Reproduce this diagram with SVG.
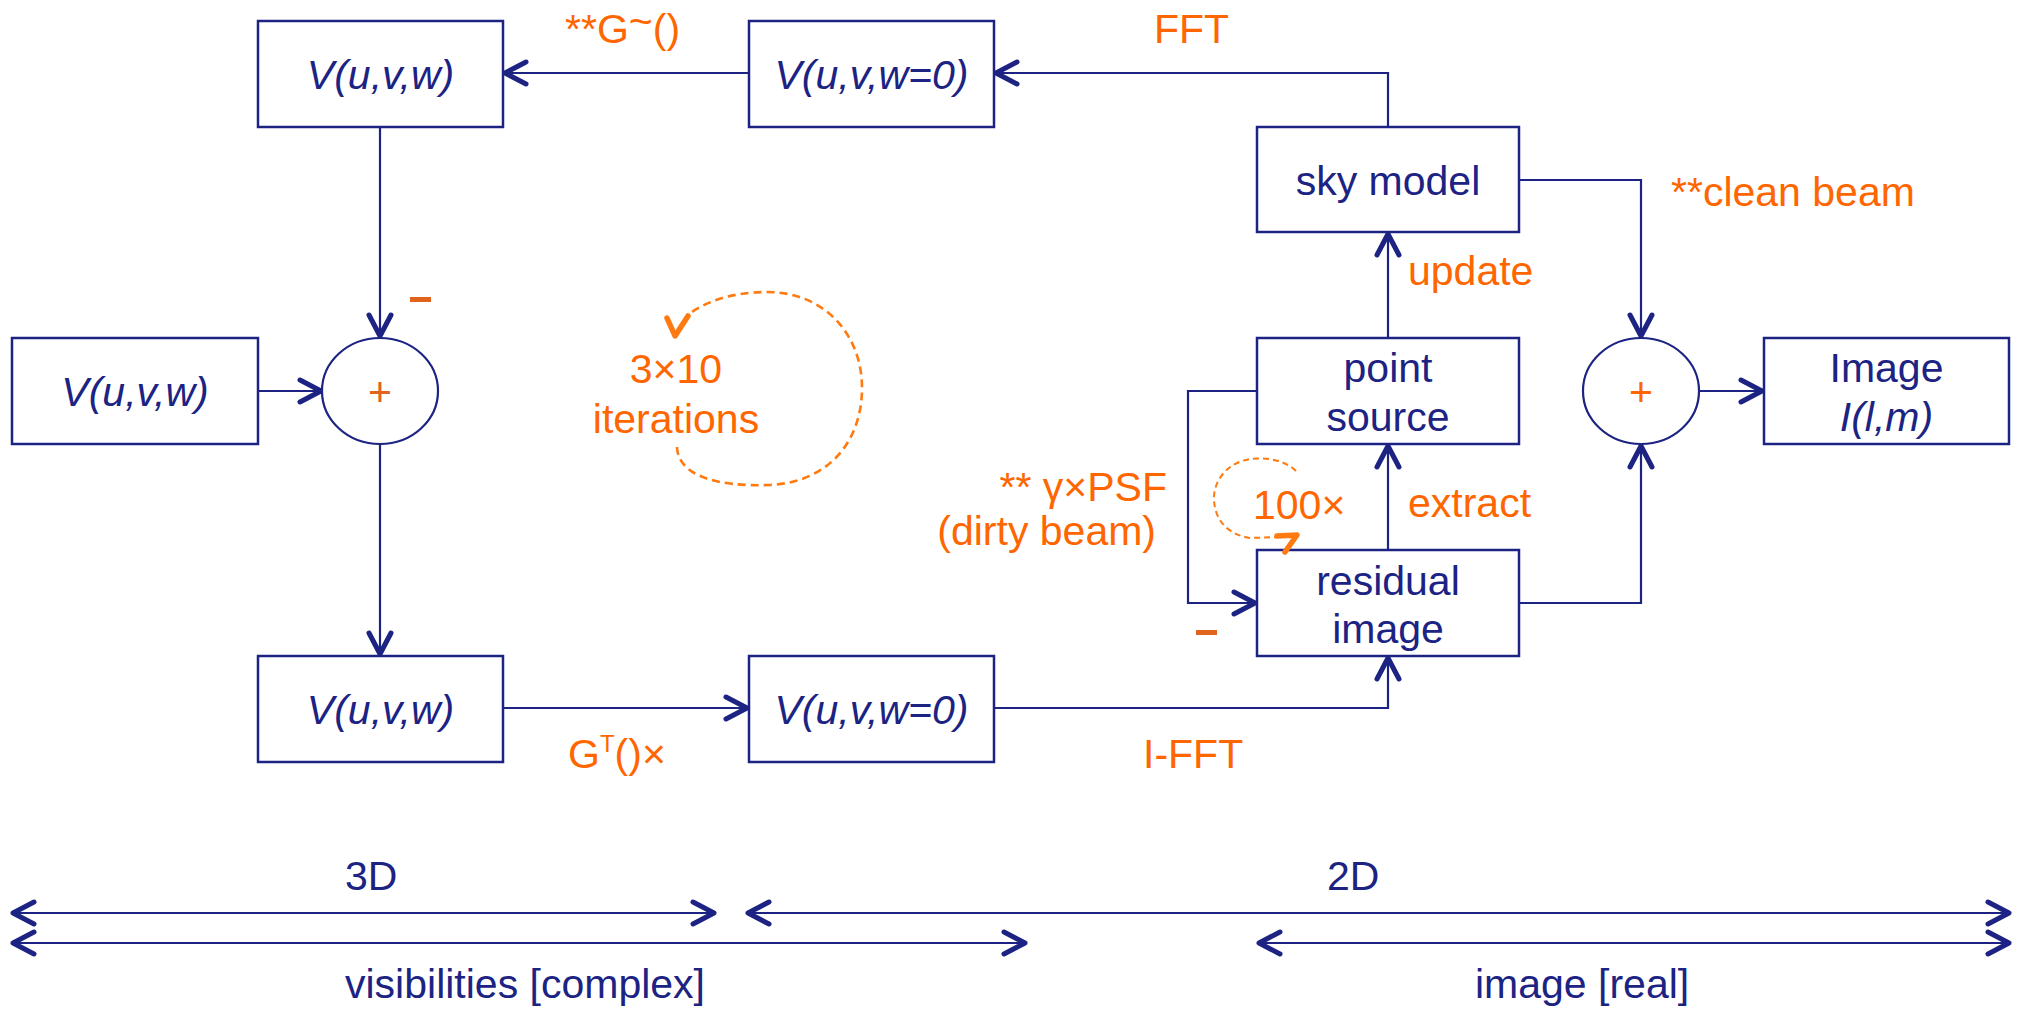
<svg xmlns="http://www.w3.org/2000/svg" width="2022" height="1010" viewBox="0 0 2022 1010">
  <defs>
    <style>
      .box { fill: #fff; stroke: #1c2383; stroke-width: 2.5; }
      .sum { fill: #fff; stroke: #1c2383; stroke-width: 2.2; }
      .wire { fill: none; stroke: #1c2383; stroke-width: 2.2; }
      .node { font-family: "Liberation Sans", Arial, sans-serif; font-size: 41px; fill: #1c2383; text-anchor: middle; }
      .it { font-style: italic; }
      .lbl { font-family: "Liberation Sans", Arial, sans-serif; font-size: 41px; fill: #ff6600; }
      .dim { font-family: "Liberation Sans", Arial, sans-serif; font-size: 41px; fill: #1c2383; }
      .loop { fill: none; stroke: #ff7a10; stroke-width: 2.6; stroke-dasharray: 8 5; }
      .loophead { fill: none; stroke: #ff7a10; stroke-width: 5.5; stroke-linecap: round; stroke-linejoin: round; }
      .minus { fill: #e0631e; }
    </style>
    <marker id="arrow" markerUnits="userSpaceOnUse" markerWidth="30" markerHeight="30" refX="0" refY="0" viewBox="-25 -15 30 30" orient="auto-start-reverse" overflow="visible">
      <path d="M -21 -11 L 0 0 L -21 11" fill="none" stroke="#1c2383" stroke-width="5" stroke-linecap="round" stroke-linejoin="round"/>
    </marker>
  </defs>

  <rect width="2022" height="1010" fill="#fff"/>

  <!-- connectors -->
  <g id="connectors">
    <path class="wire" d="M 749 73 H 505" marker-end="url(#arrow)"/>
    <path class="wire" d="M 1388 127 V 73 H 996" marker-end="url(#arrow)"/>
    <path class="wire" d="M 380 127 V 336" marker-end="url(#arrow)"/>
    <path class="wire" d="M 258 391 H 321" marker-end="url(#arrow)"/>
    <path class="wire" d="M 380 444 V 654" marker-end="url(#arrow)"/>
    <path class="wire" d="M 503 708 H 747" marker-end="url(#arrow)"/>
    <path class="wire" d="M 994 708 H 1388 V 658" marker-end="url(#arrow)"/>
    <path class="wire" d="M 1388 550 V 446" marker-end="url(#arrow)"/>
    <path class="wire" d="M 1388 338 V 234" marker-end="url(#arrow)"/>
    <path class="wire" d="M 1257 391 H 1188 V 603 H 1255" marker-end="url(#arrow)"/>
    <path class="wire" d="M 1519 180 H 1641 V 336" marker-end="url(#arrow)"/>
    <path class="wire" d="M 1519 603 H 1641 V 446" marker-end="url(#arrow)"/>
    <path class="wire" d="M 1699 391 H 1762" marker-end="url(#arrow)"/>
  </g>

  <!-- nodes -->
  <g id="vis-3d-top">
    <rect class="box" x="258" y="21" width="245" height="106"/>
    <text class="node it" x="380.5" y="89">V(u,v,w)</text>
  </g>
  <g id="vis-2d-top">
    <rect class="box" x="749" y="21" width="245" height="106"/>
    <text class="node it" x="871.5" y="89">V(u,v,w=0)</text>
  </g>
  <g id="sky-model">
    <rect class="box" x="1257" y="127" width="262" height="105"/>
    <text class="node" x="1388" y="195">sky model</text>
  </g>
  <g id="vis-input">
    <rect class="box" x="12" y="338" width="246" height="106"/>
    <text class="node it" x="135" y="406">V(u,v,w)</text>
  </g>
  <g id="sum-left">
    <ellipse class="sum" cx="380" cy="391" rx="58" ry="53"/>
    <text class="node" x="380" y="406" style="fill:#e0631e">+</text>
  </g>
  <g id="point-source">
    <rect class="box" x="1257" y="338" width="262" height="106"/>
    <text class="node" x="1388" y="382">point</text>
    <text class="node" x="1388" y="431">source</text>
  </g>
  <g id="sum-right">
    <ellipse class="sum" cx="1641" cy="391" rx="58" ry="53"/>
    <text class="node" x="1641" y="406" style="fill:#ff6600">+</text>
  </g>
  <g id="image-out">
    <rect class="box" x="1764" y="338" width="245" height="106"/>
    <text class="node" x="1886.5" y="382">Image</text>
    <text class="node it" x="1886.5" y="431">I(l,m)</text>
  </g>
  <g id="residual-image">
    <rect class="box" x="1257" y="550" width="262" height="106"/>
    <text class="node" x="1388" y="595">residual</text>
    <text class="node" x="1388" y="643">image</text>
  </g>
  <g id="vis-3d-bottom">
    <rect class="box" x="258" y="656" width="245" height="106"/>
    <text class="node it" x="380.5" y="724">V(u,v,w)</text>
  </g>
  <g id="vis-2d-bottom">
    <rect class="box" x="749" y="656" width="245" height="106"/>
    <text class="node it" x="871.5" y="724">V(u,v,w=0)</text>
  </g>

  <!-- edge labels -->
  <g id="labels">
    <text class="lbl" x="565" y="43">**G<tspan dy="-8">~</tspan><tspan dy="8">()</tspan></text>
    <text class="lbl" x="1154" y="43">FFT</text>
    <text class="lbl" x="1671" y="206">**clean beam</text>
    <text class="lbl" x="1408" y="285">update</text>
    <text class="lbl" x="1408" y="517">extract</text>
    <text class="lbl" x="1253" y="519">100×</text>
    <text class="lbl" x="1167" y="501" text-anchor="end">** γ×PSF</text>
    <text class="lbl" x="1156" y="545" text-anchor="end">(dirty beam)</text>
    <text class="lbl" x="568" y="768">G<tspan dy="-16" font-size="24">T</tspan><tspan dy="16">()×</tspan></text>
    <text class="lbl" x="1143" y="768">I-FFT</text>
    <text class="lbl" x="676" y="383" text-anchor="middle">3×10</text>
    <text class="lbl" x="676" y="433" text-anchor="middle">iterations</text>
    <rect class="minus" x="410" y="297" width="21" height="5"/>
    <rect class="minus" x="1196" y="630" width="21" height="5"/>
  </g>

  <!-- iteration loops -->
  <g id="loops">
    <path class="loop" d="M 677 447 C 678 475 715 487 770 485 C 830 482 862 440 862 388 C 862 335 825 292 767 292 C 730 292 703 303 688 315"/>
    <path class="loophead" d="M 667 318 L 675 336 L 688 316"/>
    <path class="loop" style="stroke-width:2;stroke-dasharray:6 4" d="M 1296 471 C 1285 460 1266 457 1250 459 C 1226 463 1213 482 1214 500 C 1215 522 1230 535 1250 538 L 1277 537"/>
    <path class="loophead" d="M 1277 536 L 1297 535 L 1285 552"/>
  </g>

  <!-- domain ranges -->
  <g id="ranges">
    <path class="wire" d="M 13 913 H 714" marker-start="url(#arrow)" marker-end="url(#arrow)"/>
    <path class="wire" d="M 748 913 H 2009" marker-start="url(#arrow)" marker-end="url(#arrow)"/>
    <path class="wire" d="M 13 943 H 1025" marker-start="url(#arrow)" marker-end="url(#arrow)"/>
    <path class="wire" d="M 1259 943 H 2009" marker-start="url(#arrow)" marker-end="url(#arrow)"/>
    <text class="dim" x="345" y="890">3D</text>
    <text class="dim" x="1327" y="890">2D</text>
    <text class="dim" x="345" y="998">visibilities [complex]</text>
    <text class="dim" x="1475" y="998">image [real]</text>
  </g>
</svg>
